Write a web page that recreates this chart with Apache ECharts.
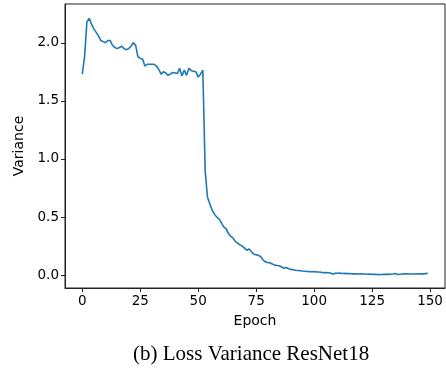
<!DOCTYPE html>
<html>
<head>
<meta charset="utf-8">
<script src="https://cdn.jsdelivr.net/npm/echarts@6/dist/echarts.min.js"></script>
<style>html,body{margin:0;padding:0;background:#fff}#c{width:446px;height:369px}</style>
</head>
<body>
<div id="c"></div>
<script>
const epochs = Array.from({length:150}, (_, i) => i);
const variance = [
1.73,1.88,2.18,2.21,2.16,2.12,2.09,2.06,2.02,2.01,
2.00,2.02,2.02,1.98,1.96,1.95,1.96,1.97,1.95,1.94,
1.95,1.97,2.00,1.98,1.88,1.865,1.86,1.80,1.815,1.815,
1.815,1.815,1.80,1.77,1.73,1.75,1.74,1.72,1.73,1.745,
1.74,1.735,1.78,1.715,1.765,1.72,1.78,1.76,1.755,1.75,
1.705,1.73,1.765,0.90,0.67,0.615,0.56,0.525,0.50,0.485,
0.45,0.415,0.40,0.36,0.335,0.32,0.29,0.275,0.26,0.25,
0.232,0.214,0.225,0.20,0.18,0.175,0.17,0.158,0.13,0.114,
0.108,0.105,0.095,0.086,0.083,0.08,0.07,0.058,0.066,0.055,
0.049,0.046,0.042,0.04,0.038,0.035,0.033,0.031,0.03,0.029,
0.03,0.028,0.027,0.025,0.02,0.022,0.02,0.018,0.01,0.015,
0.016,0.017,0.014,0.015,0.013,0.014,0.012,0.011,0.012,0.009,
0.011,0.01,0.01,0.008,0.009,0.007,0.006,0.005,0.004,0.005,
0.006,0.007,0.006,0.008,0.009,0.014,0.005,0.008,0.01,0.012,
0.011,0.01,0.009,0.01,0.011,0.01,0.012,0.011,0.013,0.015
];
const xTicks = [0,25,50,75,100,125,150];
const yTicks = [0,0.5,1.0,1.5,2.0];
const xLabel = 'Epoch';
const yLabel = 'Variance';
const caption = '(b) Loss Variance ResNet18';

const chart = echarts.init(document.getElementById('c'), null, {renderer:'canvas'});
const font = 'DejaVu Sans';
chart.setOption({
  animation:false,
  backgroundColor:'#fff',
  title:{text:caption,left:128,top:339,
    textStyle:{fontFamily:'Liberation Serif',fontSize:21,fontWeight:'normal',color:'#000'}},
  grid:{left:65,right:1,top:4,bottom:81,show:true,borderColor:'#222',borderWidth:1,backgroundColor:'transparent'},
  xAxis:{type:'value',min:-7.45,max:156.45,
    name:xLabel,nameLocation:'middle',nameGap:26,
    nameTextStyle:{fontFamily:font,fontSize:14,color:'#000'},
    axisLine:{show:true,onZero:false,lineStyle:{color:'#222',width:1}},
    axisTick:{show:true,length:4,customValues:xTicks,lineStyle:{color:'#222'}},
    axisLabel:{customValues:xTicks,fontFamily:font,fontSize:13.5,color:'#000',margin:6},
    splitLine:{show:false}},
  yAxis:{type:'value',min:-0.111,max:2.334,
    name:yLabel,nameLocation:'middle',nameGap:33,
    nameTextStyle:{fontFamily:font,fontSize:14,color:'#000'},
    axisLine:{show:true,onZero:false,lineStyle:{color:'#222',width:1}},
    axisTick:{show:true,length:4,customValues:yTicks,lineStyle:{color:'#222'}},
    axisLabel:{customValues:yTicks,fontFamily:font,fontSize:13.5,color:'#000',margin:6,
      formatter:v=>v.toFixed(1)},
    splitLine:{show:false}},
  series:[{type:'line',data:epochs.map((e,i)=>[e,variance[i]]),showSymbol:false,
    lineStyle:{color:'#1f77b4',width:1.6},itemStyle:{color:'#1f77b4'}}]
});
</script>
</body>
</html>
